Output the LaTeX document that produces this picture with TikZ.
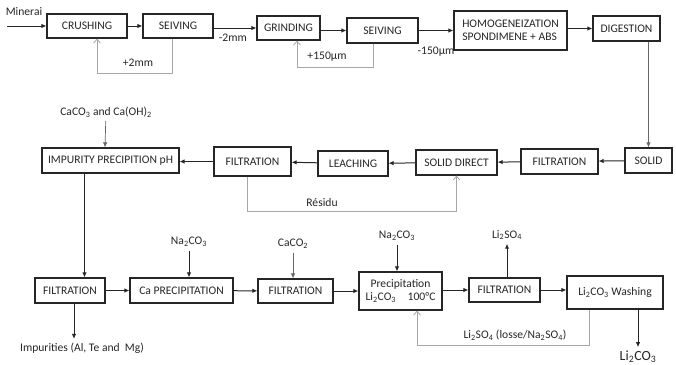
\documentclass[tikz,border=0pt]{standalone}
\usepackage{fontspec}
\setmainfont{Carlito}
\usetikzlibrary{arrows.meta}
\newcommand{\lowsub}[1]{\textsubscript{#1}}

\begin{document}
\begin{tikzpicture}[x=1pt,y=-1pt,line width=1,
	every node/.style={font=\fontsize{11.6}{13}\selectfont,text=black!85},
	box/.style={draw=black!85,line width=1.2,inner sep=0,minimum width=#1,minimum height=25},
	arr/.style={black!85,-{Latex[length=5pt,width=4.5pt]}},
	thinarr/.style={gray!80!black,line width=0.7,-{Latex[length=5pt,width=4.5pt]}},
	fb/.style={gray!70,line width=0.8,-{Straight Barb[length=4pt,width=7pt]}}]
	\useasboundingbox (0,0) rectangle (676,364);
		\node[box=80,minimum height=24] (crush) at (87,26) {CRUSHING};
		\node[box=70,minimum height=24] (seive1) at (178,26) {SEIVING};
		\node[box=63,minimum height=24] (grind) at (288.5,28) {GRINDING};
		\node[box=71] (seive2) at (382.5,30.5) {SEIVING};
		\node[box=113,minimum height=39,align=left] (homog) at (510.5,30.5) {HOMOGENEIZATION\\SPONDIMENE + ABS};
		\node[box=67] (digest) at (626.5,28.5) {DIGESTION};
		\node[box=47] (solid) at (648.5,160.5) {SOLID};
		\node[box=77] (filt2) at (559.5,161.5) {FILTRATION};
		\node[box=81] (sdirect) at (456.5,162.5) {SOLID DIRECT};
		\node[box=70] (leach) at (353,163.5) {LEACHING};
		\node[box=77,minimum height=29] (filt1) at (252.5,161.5) {FILTRATION};
		\node[box=137] (impur) at (110.5,160.5) {IMPURITY PRECIPITION pH};
		\node[box=70] (filt3) at (70,290.5) {FILTRATION};
		\node[box=103] (caprec) at (181.5,290.5) {Ca PRECIPITATION};
		\node[box=75,minimum height=24] (filt4) at (295.5,291) {FILTRATION};
		\node[box=83,minimum height=38,align=center] (precip) at (400.5,291) {Precipitation\\Li\lowsub{2}CO\lowsub{3}\quad 100°C};
		\node[box=71,minimum height=24] (filt5) at (504.5,290) {FILTRATION};
		\node[box=96,minimum height=33] (wash) at (615,292.5) {Li\lowsub{2}CO\lowsub{3} Washing};
		\node (minerai) at (24,12) {Minerai};
		\coordinate (feed) at (7,26);
		\node (caco) at (106,112) {CaCO\lowsub{3} and Ca(OH)\lowsub{2}};
		\node (naco1) at (189,242) {Na\lowsub{2}CO\lowsub{3}};
		\node (caco2) at (293,244) {CaCO\lowsub{2}};
		\node (naco2) at (397,236) {Na\lowsub{2}CO\lowsub{3}};
		\node (liso) at (507,235) {Li\lowsub{2}SO\lowsub{4}};
		\node (lico) at (638,357) {\fontsize{14}{16}\selectfont Li\lowsub{2}CO\lowsub{3}};
		\node (impurities) at (82,348) {Impurities (Al, Te and\ \ Mg)};
		\draw[arr] (feed) -- (crush);
		\draw[arr] (crush) -- (seive1);
		\draw[arr] (seive1.east |- grind) -- (grind) node[pos=0.45,below=2pt]{-2mm};
		\draw[arr] (grind.east |- seive2) -- (seive2);
		\draw[arr] (seive2) -- (seive2 -| homog.west);
		\node at (436,52) {-150µm};
		\draw[arr] (homog.east |- digest) -- (digest);
		\draw[fb] ([xshift=-6]seive1.south) -- ++(0,35) -| ([xshift=10]crush.south);
		\node at (138,63) {+2mm};
		\draw[fb] ([xshift=-9.5]seive2.south) -- ++(0,24) -| ([xshift=8.5]grind.south);
		\node at (327,57) {+150µm};
		\draw[thinarr] (digest.south -| solid) -- (solid);
		\draw[arr] (solid) -- (filt2);
		\draw[arr] (filt2) -- (sdirect);
		\draw[arr] (sdirect) -- (leach);
		\draw[arr] (leach) -- (filt1);
		\draw[arr] (filt1) -- (filt1 -| impur.east);
		\draw[fb] ([xshift=-5.5]filt1.south) -- ++(0,35) -| (sdirect.south);
		\node at (322,203) {Résidu};
		\draw[thinarr] (caco) -- ([xshift=-1]caco |- impur.north);
		\draw[arr] ([xshift=-26]impur.south) -- ([xshift=-26]impur.south |- filt3.north);
		\draw[arr] (filt3) -- (caprec);
		\draw[arr] (caprec) -- (filt4);
		\draw[arr] (filt4) -- (filt4 -| precip.west);
		\draw[arr] (precip.east |- filt5) -- (filt5);
		\draw[arr] (filt5) -- (filt5 -| wash.west);
		\draw[arr] (naco1) -- (naco1 |- caprec.north);
		\draw[thinarr] (caco2) -- (caco2 |- filt4.north);
		\draw[arr] (naco2) -- (naco2 |- precip.north);
		\draw[arr] (filt5.north -| liso) -- (liso);
		\draw[arr] (wash.south -| lico) -- (lico);
		\draw[arr] ([xshift=4]filt3.south) -- ([xshift=4]filt3.south |- impurities.north);
		\draw[fb] ([xshift=-26]wash.south) -- ++(0,36) -| ([xshift=16.5]precip.south);
		\node at (515,335) {Li\lowsub{2}SO\lowsub{4} (losse/Na\lowsub{2}SO\lowsub{4})};
	\end{tikzpicture}
\end{document}
